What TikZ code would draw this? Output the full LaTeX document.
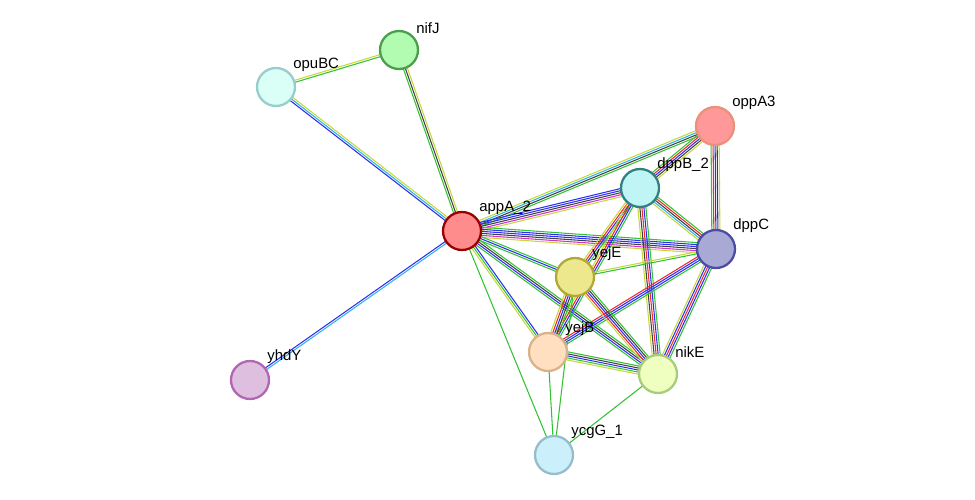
\documentclass[tikz,border=0pt]{standalone}
\usepackage{fontspec}
\setmainfont{Liberation Sans}
\usetikzlibrary{calc,backgrounds}
\definecolor{cgreen}{HTML}{33C233}
\definecolor{cyellow}{HTML}{C4D83A}
\definecolor{cblue}{HTML}{2E2EF0}
\definecolor{cred}{HTML}{EE2A2A}
\definecolor{cblack}{HTML}{404040}
\definecolor{cmag}{HTML}{D22ED2}
\definecolor{ccyan}{HTML}{2EB4E6}
\tikzset{
  prot/.style={circle, minimum size=0.76cm, line width=1.3pt},
  lab/.style={font=\fontsize{8.5}{9}\selectfont, inner sep=0pt}
}
% #1,#2 nodes, #3 number of lines, #4 colours
\newcommand{\edge}[4]{%
  \foreach \c [count=\i] in {#4} {
    \pgfmathsetmacro\o{(\i-(#3+1)/2)*1.15}
    \draw[\c, line width=0.6pt] ($(#1)!\o pt!90:(#2)$) -- ($(#2)!\o pt!-90:(#1)$);
  }}
\begin{document}
\begin{tikzpicture}[x=0.02cm,y=-0.02cm]
  \useasboundingbox (0,0) rectangle (975,500);

  \node[prot, draw=green!45!black!70, fill=green!55!black!10!green!30] (nifJ) at (399,50) {};
  \node[prot, draw=teal!40, fill=green!20!cyan!15] (opuBC) at (276,87) {};
  \node[prot, draw=red!45!brown!60, fill=red!20!pink] (oppA3) at (715,126) {};
  \node[prot, draw=teal!60!gray, fill=teal!30!cyan!25] (dppB) at (640,188) {};
  \node[prot, draw=red!60!black, fill=red!45] (appA) at (462,231) {};
  \node[prot, draw=blue!50!black!70, fill=blue!35!gray!50] (dppC) at (716,249) {};
  \node[prot, draw=olive!70, fill=olive!40!yellow!40] (yejE) at (575,277) {};
  \node[prot, draw=brown!60, fill=orange!25] (yejB) at (548,352) {};
  \node[prot, draw=olive!45!green!50, fill=lime!25] (nikE) at (658,374) {};
  \node[prot, draw=violet!60, fill=violet!25] (yhdY) at (250,380) {};
  \node[prot, draw=cyan!40!gray!70, fill=cyan!20] (ycgG) at (554,455) {};

  \node[lab, anchor=south west] (lnifJ) at (416,34) {nifJ};
  \node[lab, anchor=south west] (lopuBC) at (293,72) {opuBC};
  \node[lab, anchor=south west] (loppA3) at (732,110) {oppA3};
  \node[lab, anchor=south west] (ldppB) at (657,172) {dppB\_2};
  \node[lab, anchor=south west] (lappA) at (479,215) {appA\_2};
  \node[lab, anchor=south west] (ldppC) at (733,233) {dppC};
  \node[lab, anchor=south west] (lyejE) at (592,261) {yejE};
  \node[lab, anchor=south west] (lyejB) at (565,336) {yejB};
  \node[lab, anchor=south west] (lnikE) at (675,358) {nikE};
  \node[lab, anchor=south west] (lyhdY) at (267,364) {yhdY};
  \node[lab, anchor=south west] (lycgG) at (571,439) {ycgG\_1};

  \begin{pgfonlayer}{background}
    \edge{opuBC}{nifJ}{2}{cgreen,cyellow}
    \edge{opuBC}{appA}{3}{cblue,ccyan,cyellow}
    \edge{nifJ}{appA}{3}{cgreen,cblack,cyellow}
    \edge{appA}{yhdY}{2}{cblue,ccyan}
    \edge{appA}{oppA3}{4}{cgreen,cblack,ccyan,cyellow}
    \edge{appA}{dppB}{5}{cyellow,cmag,cblack,cblue,cblue}
    \edge{appA}{dppC}{6}{cyellow,cmag,cblack,cblue,cblue,cgreen}
    \edge{appA}{yejE}{3}{cgreen,cblue,cgreen}
    \edge{appA}{yejB}{3}{cyellow,cgreen,cblue}
    \edge{appA}{nikE}{4}{cgreen,cblue,cblack,cgreen}
    \edge{appA}{ycgG}{1}{cgreen}
    \edge{oppA3}{dppB}{5}{cgreen,cred,cblue,cblack,cyellow}
    \edge{oppA3}{dppC}{5}{cgreen,cred,cblue,cblack,cyellow}
    \edge{dppB}{dppC}{5}{cyellow,ccyan,cblack,cred,cgreen}
    \edge{dppB}{yejE}{4}{cyellow,cred,cblue,cgreen}
    \edge{dppB}{yejB}{4}{cyellow,cred,cblue,cgreen}
    \edge{dppB}{nikE}{5}{cyellow,cblack,cred,cblue,cgreen}
    \edge{dppC}{yejE}{2}{cyellow,cgreen}
    \edge{dppC}{yejB}{4}{cred,cblue,cblue,cgreen}
    \edge{dppC}{nikE}{5}{cyellow,cblue,cred,cblue,cgreen}
    \edge{yejE}{yejB}{5}{cyellow,cred,cblue,cblack,cgreen}
    \edge{yejE}{nikE}{5}{cyellow,cred,cblue,cblack,cgreen}
    \edge{yejE}{ycgG}{1}{cgreen}
    \edge{yejB}{nikE}{5}{cyellow,cgreen,cblue,cblack,cgreen}
    \edge{yejB}{ycgG}{1}{cgreen}
    \edge{nikE}{ycgG}{1}{cgreen}
  \end{pgfonlayer}
\end{tikzpicture}
\end{document}
